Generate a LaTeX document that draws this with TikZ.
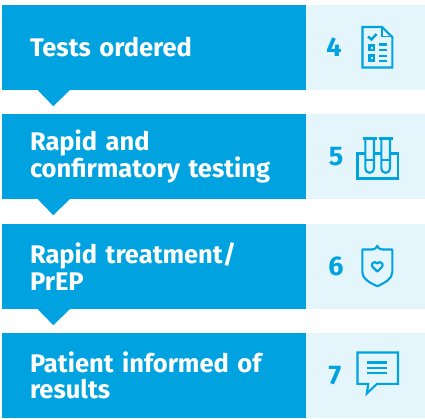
\documentclass[tikz,border=0pt]{standalone}
\usepackage{fontspec}
\setmainfont{Fira Sans}[UprightFont=* Medium,BoldFont=* Bold]
\usetikzlibrary{calc}
\definecolor{stepblue}{HTML}{00A3E0}
\definecolor{steppale}{HTML}{E5F5FC}
\tikzset{
  x=1pt,y=-1pt,
  titlebox/.style={fill=stepblue,text=white,minimum width=304pt,minimum height=85pt,inner xsep=28pt,inner ysep=0pt,text width=248pt,align=left,font=\fontsize{25.5}{26.5}\selectfont\bfseries},
  sidebox/.style={fill=steppale,minimum width=119pt,minimum height=85pt,inner sep=0pt},
  numlabel/.style={text=stepblue,inner sep=0pt,font=\fontsize{27}{28}\selectfont\bfseries},
  pointer/.style={fill=stepblue,draw=none},
  icon/.style={draw=stepblue,line width=2.1pt,fill=none,line join=miter},
  iconfill/.style={fill=stepblue,draw=none}
}
\newcommand{\pointerbelow}[1]{\fill[pointer] ($(#1.south west)+(36,0)$) -- ($(#1.south west)+(51.5,16)$) -- ($(#1.south west)+(68,0)$) -- cycle;}
\begin{document}
\begin{tikzpicture}
\useasboundingbox (0,0) rectangle (425,418);
\node[sidebox] (sa) at (365.5,47.5) {};
\node[sidebox] (sb) at (365.5,156.5) {};
\node[sidebox] (sc) at (365.5,266.5) {};
\node[sidebox] (sd) at (365.5,375.5) {};
\node[titlebox] (a) at (154,47.5) {Tests ordered};
\node[titlebox] (b) at (154,156.5) {Rapid and\\confirmatory testing};
\node[titlebox] (c) at (154,266.5) {Rapid treatment/\\PrEP};
\node[titlebox] (d) at (154,375.5) {Patient informed of\\results};
\pointerbelow{a}
\pointerbelow{b}
\pointerbelow{c}
\node[numlabel] (na) at (334,47.5) {4};
\node[numlabel] (nb) at (336,157) {5};
\node[numlabel] (nc) at (336,266) {6};
\node[numlabel] (nd) at (335,375.5) {7};
% clipboard icon
\draw[icon] (362.5,27) -- (382,27) -- (392.3,37) -- (392.3,67.5) -- (362.5,67.5) -- cycle;
\draw[icon,line width=1.5pt] (382,27) -- (382,36.5) -- (392.3,36.5);
\draw[icon,line width=2.4pt] (368,36.5) -- (371.5,39.5) -- (376.5,34);
\draw[icon,line width=2.4pt] (369.3,45.3) rectangle (374,50);
\draw[icon,line width=2.4pt] (369.3,55.5) rectangle (374,60.5);
\draw[icon,line width=2.2pt] (379,44.5) -- (387,44.5) (379,50) -- (387,50) (379,56) -- (387,56) (379,61) -- (387,61);
% test tubes icon
\draw[icon] (365.3,153.5) -- (357.5,153.5) -- (357.5,178.5) -- (398,178.5) -- (398,153.5) -- (390,153.5)
  (374,153.5) -- (381,153.5);
\draw[icon] (365.3,138.5) -- (365.3,168.5) arc[start angle=180,end angle=360,radius=4.35pt] -- (374,138.5);
\draw[icon] (381.3,138.5) -- (381.3,168.5) arc[start angle=180,end angle=360,radius=4.35pt] -- (390,138.5);
\draw[icon] (362.5,138.5) -- (376.5,138.5) (378.5,138.5) -- (392.5,138.5);
\draw[icon] (365.3,160) -- (374,160) (381.3,160) -- (390,160);
% shield icon
\draw[icon,line join=round] (362.3,249.5) -- (372,249.5) .. controls (375,249.5) and (376.5,248) .. (377.3,245.8) .. controls (378,248) and (379.5,249.5) .. (382.5,249.5) -- (392.3,249.5) -- (392.3,272) .. controls (392.3,279) and (385,282.5) .. (377.3,286.3) .. controls (369.5,282.5) and (362.3,279) .. (362.3,272) -- cycle;
\draw[icon,line join=round,line width=2.2pt] (377.3,271.5) -- (372.3,266.5) .. controls (370.5,263.5) and (374.5,260.5) .. (377.3,263.3) .. controls (380,260.5) and (384,263.5) .. (382.3,266.5) -- cycle;
% speech bubble icon
\draw[icon] (357.5,352.5) -- (398,352.5) -- (398,383.8) -- (377,383.8) -- (366.8,393.5) -- (368.3,383.8) -- (357.5,383.8) -- cycle;
\draw[icon,line width=2.2pt] (367.3,362.5) -- (387.3,362.5) (367.3,367.8) -- (387.3,367.8) (367.3,373.2) -- (387.3,373.2);
\end{tikzpicture}
\end{document}
